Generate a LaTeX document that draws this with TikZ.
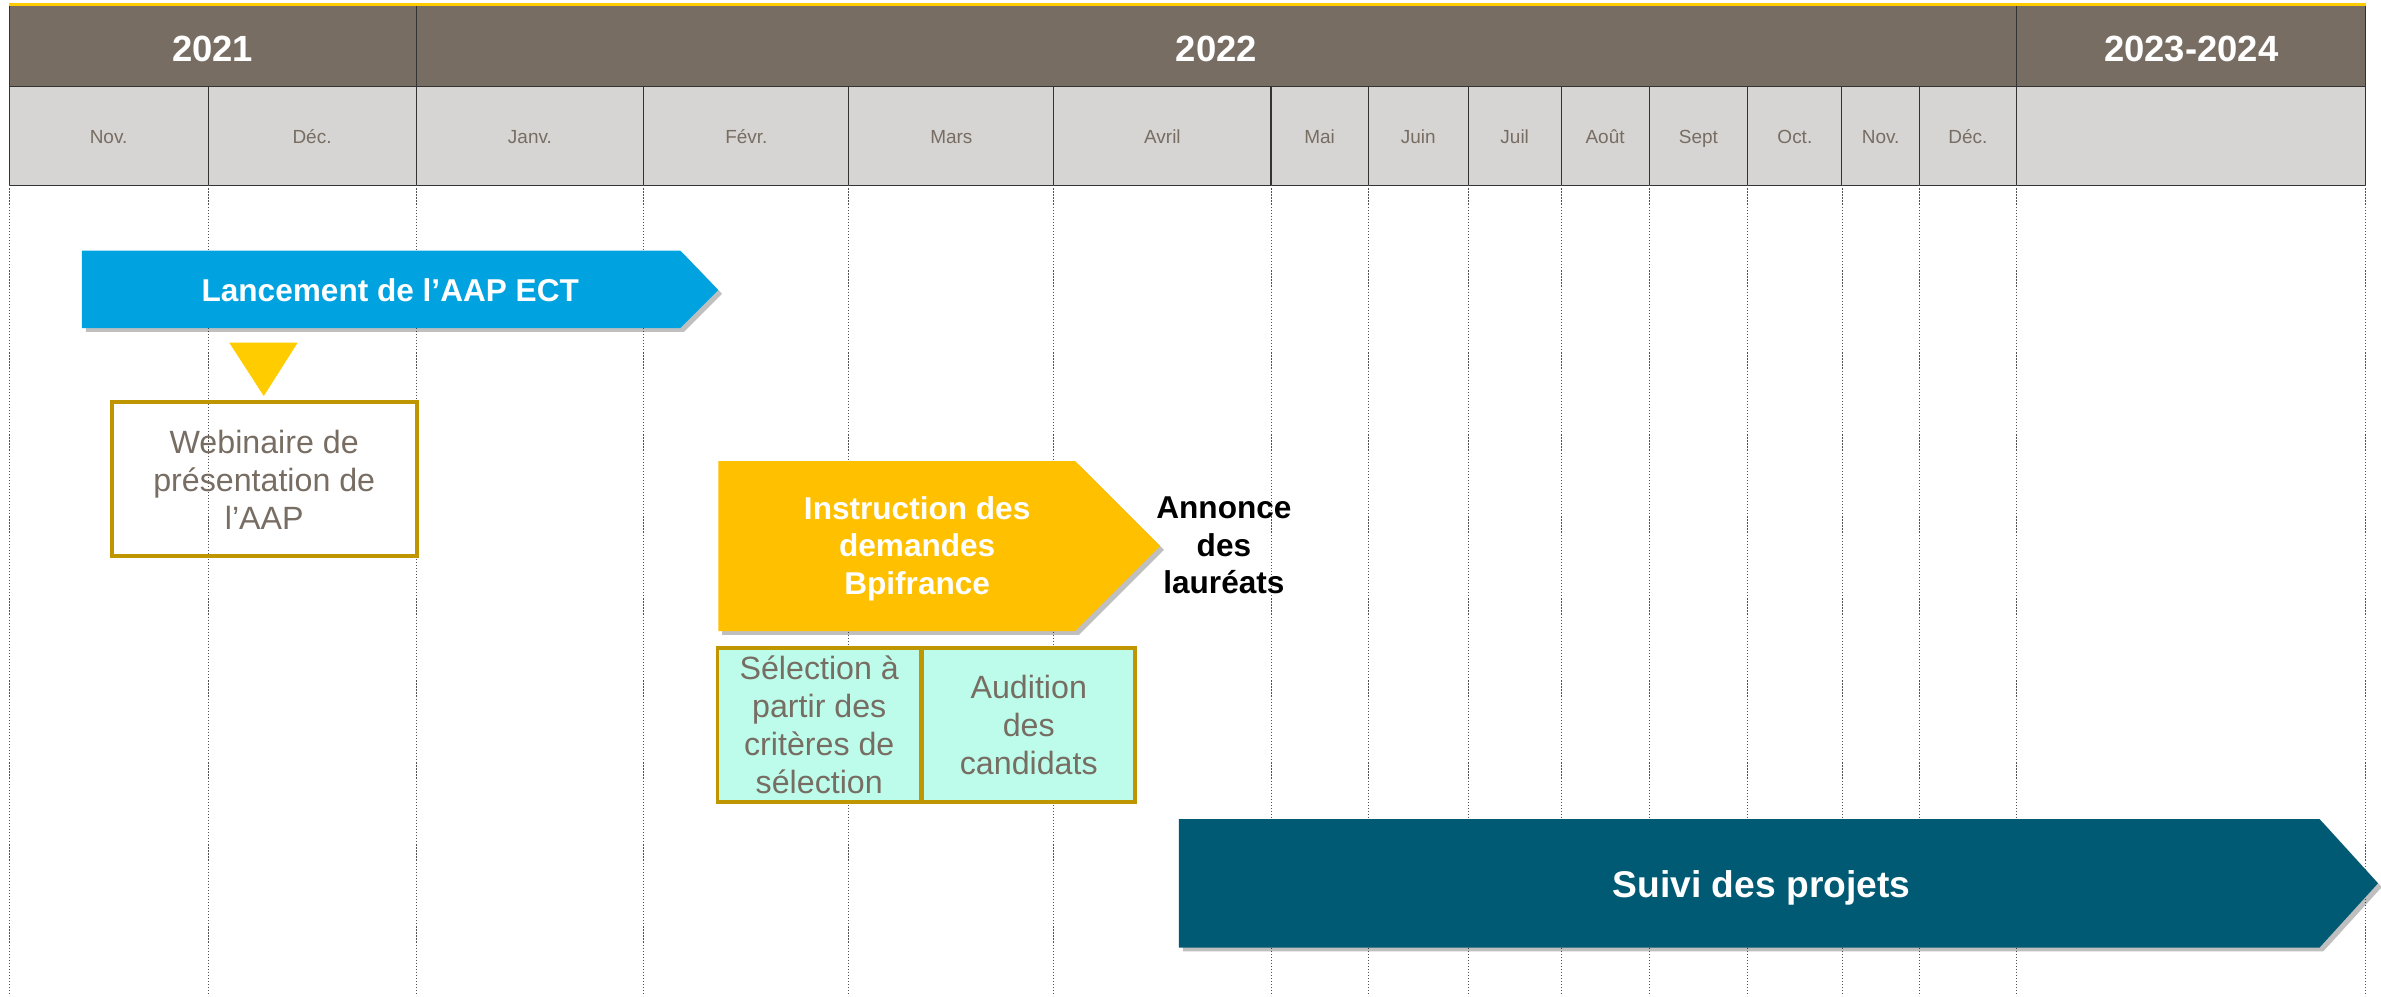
\documentclass[tikz,border=0pt]{standalone}
\usepackage{fontspec}
\setmainfont{Liberation Sans}
\usepackage{xcolor}
\usepackage{tikz}
\usetikzlibrary{shadows}
\definecolor{C0}{HTML}{776D63}
\definecolor{C1}{HTML}{D6D5D3}
\definecolor{C2}{HTML}{00A3E0}
\definecolor{C3}{HTML}{FFC000}
\definecolor{C4}{HTML}{005A74}
\definecolor{C5}{HTML}{BF9500}
\definecolor{C6}{HTML}{FFCC00}
\definecolor{C7}{HTML}{BDFCEA}
\definecolor{C9}{HTML}{333333}

\begin{document}
\begin{tikzpicture}[x=1pt,y=-1pt]
\tikzstyle{yr}=[draw=C9,fill=C0,line width=0.7pt,inner sep=0pt,outer sep=0pt,minimum height=54pt,text=white,font=\fontsize{24}{28}\selectfont\bfseries,text height=21pt,text depth=0pt]
\tikzstyle{mo}=[draw=C9,fill=C1,line width=0.7pt,inner sep=0pt,outer sep=0pt,minimum height=65pt,text=C0,font=\fontsize{12.5}{15}\selectfont,text height=10pt,text depth=0pt]
\tikzstyle{grid}=[C9!85,line width=0.6pt,dash pattern=on 0.8pt off 1.2pt]
\tikzstyle{bx}=[draw=C5,line width=2.6pt,inner sep=0pt,align=center,text=C0,font=\fontsize{21.2}{25}\selectfont]
\tikzstyle{lbl}=[align=center,font=\fontsize{20.8}{24.6}\selectfont\bfseries]
\tikzstyle{shd}=[drop shadow={shadow xshift=2.5pt,shadow yshift=-2.5pt,fill=black,opacity=0.25}]

\useasboundingbox (0,0) rectangle (1568,656);
\coordinate (bot) at (0,656);
%
\node[yr,minimum width=268pt](y1) at (140,30){2021};
\node[yr,minimum width=1054pt](y2) at (801,30){2022};
\node[yr,minimum width=230pt](y3) at (1443,30){2023-2024};
\draw[C6,line width=2pt] (y1.north west) -- (y3.north east);
%
\node[mo,minimum width=131pt](m1) at (71.5,89.5){Nov.};
\node[mo,minimum width=137pt](m2) at (205.5,89.5){Déc.};
\node[mo,minimum width=150pt](m3) at (349,89.5){Janv.};
\node[mo,minimum width=135pt](m4) at (491.5,89.5){Févr.};
\node[mo,minimum width=135pt](m5) at (626.5,89.5){Mars};
\node[mo,minimum width=143pt](m6) at (765.5,89.5){Avril};
\node[mo,minimum width=64pt](m7) at (869,89.5){Mai};
\node[mo,minimum width=66pt](m8) at (934,89.5){Juin};
\node[mo,minimum width=61pt](m9) at (997.5,89.5){Juil};
\node[mo,minimum width=58pt](m10) at (1057,89.5){Août};
\node[mo,minimum width=65pt](m11) at (1118.5,89.5){Sept};
\node[mo,minimum width=62pt](m12) at (1182,89.5){Oct.};
\node[mo,minimum width=51pt](m13) at (1238.5,89.5){Nov.};
\node[mo,minimum width=64pt](m14) at (1296,89.5){Déc.};
\node[mo,minimum width=230pt](m15) at (1443,89.5){};
%
\draw[grid] (m1.south west) -- (m1.south west |- bot);
\draw[grid] (m2.south west) -- (m2.south west |- bot);
\draw[grid] (m3.south west) -- (m3.south west |- bot);
\draw[grid] (m4.south west) -- (m4.south west |- bot);
\draw[grid] (m5.south west) -- (m5.south west |- bot);
\draw[grid] (m6.south west) -- (m6.south west |- bot);
\draw[grid] (m7.south west) -- (m7.south west |- bot);
\draw[grid] (m8.south west) -- (m8.south west |- bot);
\draw[grid] (m9.south west) -- (m9.south west |- bot);
\draw[grid] (m10.south west) -- (m10.south west |- bot);
\draw[grid] (m11.south west) -- (m11.south west |- bot);
\draw[grid] (m12.south west) -- (m12.south west |- bot);
\draw[grid] (m13.south west) -- (m13.south west |- bot);
\draw[grid] (m14.south west) -- (m14.south west |- bot);
\draw[grid] (m15.south west) -- (m15.south west |- bot);
\draw[grid] (m15.south east) -- (m15.south east |- bot);
%
\fill[C2,shd] (54,165) -- (448,165) -- (473,191) -- (448,216) -- (54,216) -- cycle;
\node[lbl,text=white](lanc) at (257,191.3){Lancement de l’AAP ECT};
\fill[C6] (151,225.7) -- (196,225.7) -- (173.7,260.8) -- cycle;
\node[bx,minimum width=201pt,minimum height=101.5pt](web) at (174,315.7){Webinaire de\\présentation de\\l’AAP};
%
\fill[C3,shd] (473,303.6) -- (708,303.6) -- (764,359.6) -- (708,415.6) -- (473,415.6) -- cycle;
\node[lbl,text=white](instr) at (604,361.4){Instruction des\\demandes\\Bpifrance};
\node[lbl,text=black](annonce) at (806,359.3){Annonce\\des\\lauréats};
\node[bx,fill=C7,minimum width=134pt,minimum height=101.6pt](sel) at (539.5,477.3){Sélection à\\partir des\\critères de\\sélection};
\node[bx,fill=C7,minimum width=140pt,minimum height=101.6pt](aud) at (677.5,477.3){Audition\\des\\candidats};
%
\fill[C4,shd] (776.4,539.4) -- (1527.5,539.4) -- (1566,581.7) -- (1527.5,624) -- (776.4,624) -- cycle;
\node[lbl,text=white,font=\fontsize{24.5}{29}\selectfont\bfseries](suivi) at (1160,584.6){Suivi des projets};
\end{tikzpicture}
\end{document}
